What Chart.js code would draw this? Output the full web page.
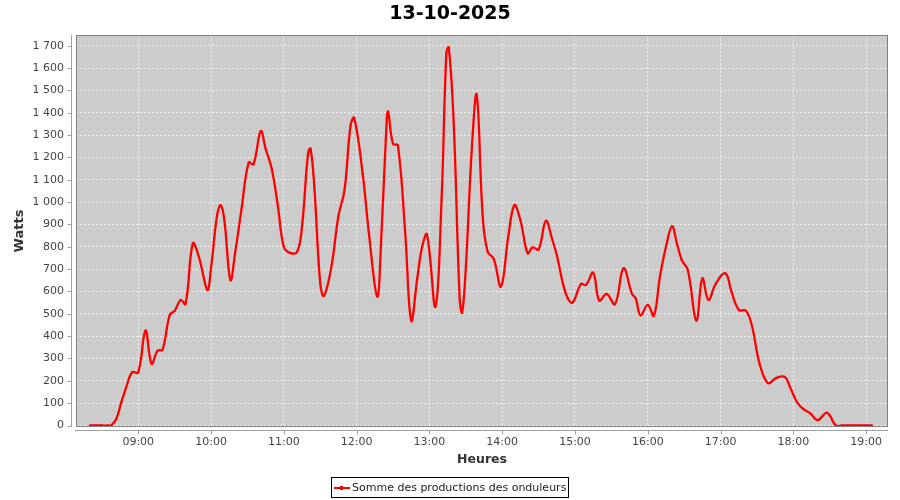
<!DOCTYPE html>
<html>
<head>
<meta charset="utf-8">
<script src="https://cdn.jsdelivr.net/npm/chart.js@4.4.1/dist/chart.umd.min.js"></script>
<style>
  html, body { margin: 0; padding: 0; background: #ffffff; }
  #wrap { width: 900px; height: 500px; position: relative; }
</style>
</head>
<body>
<div id="wrap"><canvas id="c" width="900" height="500"></canvas></div>
<script>
// ---- data ----
const chartTitle = '13-10-2025';
const seriesName = 'Somme des productions des onduleurs';
const times = ['08:20','08:25','08:30','08:35','08:38','08:42','08:46','08:50','08:55','09:00','09:06','09:11','09:16','09:20','09:26','09:30','09:35','09:39','09:45','09:50','09:57','10:00','10:05','10:08','10:11','10:16','10:20','10:25','10:31','10:35','10:41','10:45','10:50','10:55','11:00','11:05','11:11','11:15','11:20','11:22','11:25','11:30','11:33','11:39','11:45','11:50','11:55','11:58','12:05','12:10','12:17','12:20','12:25','12:26','12:30','12:34','12:40','12:45','12:50','12:54','12:58','13:05','13:10','13:14','13:16','13:20','13:25','13:27','13:30','13:35','13:39','13:44','13:48','13:53','13:59','14:05','14:10','14:15','14:21','14:25','14:30','14:36','14:41','14:45','14:50','14:54','14:58','15:05','15:09','15:15','15:20','15:26','15:33','15:40','15:47','15:50','15:54','16:00','16:05','16:10','16:15','16:20','16:24','16:28','16:33','16:40','16:45','16:50','16:56','17:04','17:09','17:15','17:21','17:26','17:32','17:39','17:46','17:53','17:57','18:03','18:08','18:14','18:20','18:27','18:30','18:35','18:40','18:45','18:50','18:55','19:00','19:05'];
const watts = [0,0,0,0,2,30,103,170,238,238,425,276,335,339,495,513,562,544,815,755,607,705,941,986,919,651,778,964,1177,1169,1318,1239,1150,986,800,773,778,892,1219,1239,1080,637,580,704,937,1053,1343,1377,1127,867,577,800,1388,1405,1261,1254,867,469,659,800,855,532,1008,1670,1692,1358,562,506,704,1242,1480,930,778,746,622,845,986,919,771,797,788,916,837,763,637,570,550,634,629,684,559,589,543,704,589,570,493,540,491,666,800,892,815,741,696,470,659,562,634,681,599,518,513,443,280,190,213,217,175,104,75,54,24,57,45,0,0,0,0,0,0,0];
const hourTicks = ['09:00','10:00','11:00','12:00','13:00','14:00','15:00','16:00','17:00','18:00','19:00'];
const wattTicks = [0,100,200,300,400,500,600,700,800,900,1000,1100,1200,1300,1400,1500,1600,1700];

// ---- helpers ----
const toMin = s => { const [h, m] = s.split(':').map(Number); return h * 60 + m; };
const fmtTime = v => String(Math.floor(v / 60)).padStart(2, '0') + ':' + String(Math.round(v % 60)).padStart(2, '0');
const fmtWatt = v => v >= 1000 ? Math.floor(v / 1000) + ' ' + String(v % 1000).padStart(3, '0') : String(v);

const points = times.map((t, i) => ({ x: toMin(t), y: watts[i] }));

const FONT = 'DejaVu Sans';
const PLOT_BG = '#cccccc';

const decor = {
  id: 'decor',
  beforeDraw(chart) {
    const { ctx, chartArea: a } = chart;
    ctx.save();
    ctx.fillStyle = '#ffffff';
    ctx.fillRect(0, 0, chart.width, chart.height);
    ctx.fillStyle = PLOT_BG;
    ctx.fillRect(a.left, a.top, a.right - a.left, a.bottom - a.top);
    ctx.restore();
  },
  afterDraw(chart) {
    const { ctx, chartArea: a, scales } = chart;
    ctx.save();
    // plot outline
    ctx.strokeStyle = '#808080';
    ctx.lineWidth = 1;
    ctx.strokeRect(a.left + 0.5, a.top + 0.5, a.right - a.left - 1, a.bottom - a.top - 1);
    // y axis line + ticks (offset from plot)
    ctx.strokeStyle = '#a0a0a0';
    ctx.beginPath();
    const ax = a.left - 4.5;
    ctx.moveTo(ax, a.top); ctx.lineTo(ax, a.bottom);
    wattTicks.forEach(v => {
      const y = Math.round(scales.y.getPixelForValue(v)) + 0.5;
      ctx.moveTo(ax - 4, y); ctx.lineTo(ax, y);
    });
    // x axis line + ticks
    const ay = a.bottom + 3.5;
    ctx.moveTo(a.left - 1, ay); ctx.lineTo(a.right, ay);
    hourTicks.forEach(t => {
      const x = Math.round(scales.x.getPixelForValue(toMin(t))) + 0.5;
      ctx.moveTo(x, ay); ctx.lineTo(x, ay + 4);
    });
    ctx.stroke();

    // title
    ctx.fillStyle = '#000000';
    ctx.font = 'bold 19px "' + FONT + '"';
    ctx.textAlign = 'center';
    ctx.textBaseline = 'middle';
    ctx.fillText(chartTitle, 450, 14);

    // legend
    ctx.strokeStyle = '#000000';
    ctx.lineWidth = 1;
    ctx.strokeRect(331.5, 477.5, 237, 20);
    ctx.strokeStyle = '#ff0000';
    ctx.lineWidth = 2;
    ctx.beginPath();
    ctx.moveTo(334, 488); ctx.lineTo(350, 488);
    ctx.stroke();
    ctx.fillStyle = '#ff0000';
    ctx.fillRect(340, 486, 3, 4);
    ctx.fillStyle = '#222222';
    ctx.font = '11px "' + FONT + '"';
    ctx.textAlign = 'left';
    ctx.textBaseline = 'middle';
    ctx.fillText(seriesName, 352, 488);
    ctx.restore();
  }
};

new Chart(document.getElementById('c'), {
  type: 'line',
  data: {
    datasets: [{
      label: seriesName,
      data: points,
      borderColor: '#ff0000',
      backgroundColor: '#ff0000',
      borderWidth: 2.3,
      tension: 0.4,
      pointRadius: 1,
      pointBorderWidth: 0,
      pointBackgroundColor: '#ff0000',
      fill: false
    }]
  },
  options: {
    responsive: false,
    animation: false,
    devicePixelRatio: 1,
    layout: { padding: { top: 35, right: 12, bottom: 0, left: 0 } },
    plugins: {
      legend: { display: false },
      title: { display: false },
      tooltip: { enabled: false }
    },
    scales: {
      x: {
        type: 'linear',
        min: 488.7,
        max: 1158,
        afterFit(s) { s.height = 73; },
        afterBuildTicks(s) { s.ticks = hourTicks.map(t => ({ value: toMin(t) })); },
        border: { display: false, dash: [2, 2] },
        grid: { color: 'rgba(255,255,255,0.7)', lineWidth: 1, drawTicks: false },
        ticks: {
          autoSkip: false, maxRotation: 0, padding: 9,
          color: '#444444',
          font: { family: FONT, size: 11 },
          callback: v => fmtTime(v)
        },
        title: {
          display: true, text: 'Heures', color: '#333333',
          font: { family: FONT, size: 12.5, weight: 'bold' },
          padding: { top: 0, bottom: 33 }
        }
      },
      y: {
        type: 'linear',
        min: -6.7,
        max: 1748,
        afterFit(s) { s.width = 76; },
        afterBuildTicks(s) { s.ticks = wattTicks.map(v => ({ value: v })); },
        border: { display: false, dash: [2, 2] },
        grid: { color: 'rgba(255,255,255,0.7)', lineWidth: 1, drawTicks: false },
        ticks: {
          autoSkip: false, padding: 12,
          color: '#444444',
          font: { family: FONT, size: 11 },
          callback: v => fmtWatt(v)
        },
        title: {
          display: true, text: 'Watts', color: '#333333',
          font: { family: FONT, size: 13, weight: 'bold' },
          padding: { top: 12, bottom: 0 }
        }
      }
    }
  },
  plugins: [decor]
});
</script>
</body>
</html>
